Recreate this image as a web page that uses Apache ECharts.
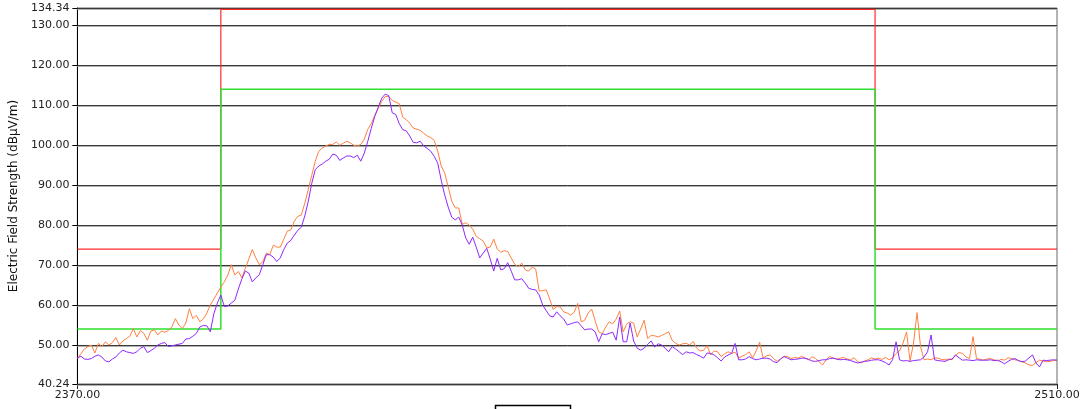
<!DOCTYPE html>
<html>
<head>
<meta charset="utf-8">
<script src="https://cdn.jsdelivr.net/npm/echarts@6/dist/echarts.min.js"></script>
<style>
html,body{margin:0;padding:0;background:#fff;}
#chart{width:1083px;height:409px;}
</style>
</head>
<body>
<div id="chart"></div>
<script>
// Frequency grid (MHz)
const freqStart = 2370;
const freqStep = 0.5;

// Trace 1 (orange), dBµV/m, every 0.5 MHz from 2370 to 2510
const traceOrange = [
  46.7, 47.8, 49.0, 49.6, 50.0, 48.0, 50.4, 49.6, 50.8, 50.0,
  50.6, 51.9, 50.0, 51.0, 51.6, 52.2, 54.1, 52.0, 53.6, 52.9,
  51.2, 53.5, 53.8, 52.5, 53.5, 53.2, 53.6, 54.5, 56.6, 55.0,
  54.1, 55.5, 59.1, 56.6, 57.4, 55.8, 56.5, 58.0, 60.0, 61.5,
  63.0, 64.5, 65.8, 67.5, 70.1, 67.5, 68.4, 66.8, 69.2, 71.5,
  73.9, 71.8, 70.1, 70.8, 73.0, 72.6, 75.0, 74.5, 74.5, 76.5,
  78.5, 78.8, 81.0, 82.2, 82.5, 85.5, 89.0, 92.5, 96.0, 98.5,
  99.3, 99.8, 100.2, 100.2, 100.8, 100.0, 100.5, 101.0, 100.6, 100.0,
  99.8, 100.2, 101.5, 104.0, 105.4, 107.5, 109.2, 111.0, 112.2, 112.2,
  111.2, 110.8, 110.4, 107.0, 106.4, 105.5, 104.3, 104.0, 103.7, 103.0,
  102.3, 101.9, 101.2, 98.5, 94.8, 93.0, 89.5, 86.0, 84.3, 84.3,
  80.2, 80.6, 80.0, 79.0, 77.2, 76.6, 76.0, 74.3, 74.5, 76.5,
  74.0, 73.2, 73.6, 73.4, 71.8, 70.2, 69.6, 70.5, 68.8, 68.5,
  69.5, 69.0, 63.5, 63.6, 63.8, 61.5, 58.9, 59.6, 59.5, 58.3,
  58.0, 57.5, 58.2, 60.4, 55.8, 56.2, 58.0, 59.0, 56.0, 53.3,
  52.8, 54.5, 55.8, 55.3, 56.5, 58.5, 53.3, 55.2, 55.8, 55.5,
  52.0, 54.0, 56.2, 51.6, 52.4, 52.3, 52.0, 52.4, 52.8, 53.3,
  51.2, 50.4, 50.0, 50.3, 50.4, 50.0, 50.9, 49.2, 48.5, 48.7,
  49.8, 47.5, 48.5, 48.3, 47.1, 47.8, 48.3, 47.9, 48.2, 46.8,
  47.2, 47.6, 48.3, 46.8, 48.5, 50.7, 46.7, 47.3, 47.5, 46.6,
  45.9, 46.5, 47.2, 47.1, 46.6, 46.9, 46.7, 47.2, 46.7, 46.3,
  47.1, 46.6, 45.8, 45.0, 46.3, 47.1, 46.8, 46.4, 46.7, 46.9,
  46.5, 46.3, 46.8, 45.9, 45.5, 46.0, 46.3, 46.8, 46.5, 46.7,
  46.4, 46.9, 46.3, 46.8, 47.9, 48.5, 50.5, 53.3, 46.0, 50.5,
  58.1, 49.6, 46.3, 46.5, 46.3, 46.8, 46.7, 46.4, 46.3, 46.5,
  46.3, 47.5, 48.1, 47.9, 47.0, 46.6, 52.1, 46.6, 46.4, 46.2,
  46.5, 46.6, 46.3, 46.0, 46.4, 46.2, 46.8, 46.6, 46.3, 46.1,
  45.8, 45.5, 45.0, 44.9, 45.6, 46.2, 46.0, 45.8, 45.9, 46.1,
  46.2
];

// Trace 2 (purple)
const tracePurple = [
  46.7, 47.2, 46.5, 46.4, 46.6, 47.2, 47.5, 47.0, 46.0, 45.8,
  46.5, 47.0, 48.0, 48.7, 48.3, 48.1, 47.9, 48.3, 49.2, 49.6,
  48.1, 48.6, 49.2, 50.0, 50.4, 50.6, 49.6, 49.8, 50.0, 50.2,
  50.4, 51.5, 51.6, 52.2, 52.9, 54.5, 54.9, 54.8, 53.3, 57.8,
  60.5, 62.5, 59.6, 59.8, 60.5, 61.2, 64.0, 66.5, 68.5, 68.0,
  65.8, 66.8, 67.6, 70.1, 72.6, 72.6, 72.0, 70.9, 71.8, 73.9,
  75.5, 76.2, 77.5, 78.7, 79.5, 82.3, 86.0, 90.5, 93.9, 94.8,
  95.3, 96.0, 96.5, 97.8, 97.5, 96.2, 96.8, 97.3, 97.3, 96.9,
  97.5, 96.0, 98.0, 101.0, 104.2, 107.2, 109.5, 111.8, 112.8, 112.4,
  108.1, 107.7, 105.4, 103.9, 103.6, 102.3, 100.7, 100.6, 101.0, 99.8,
  99.2, 98.5, 97.2, 95.5, 91.2, 87.5, 84.5, 82.0, 81.3, 82.0,
  80.0, 76.8, 75.2, 77.0, 74.5, 71.8, 73.0, 74.2, 71.5, 68.5,
  71.7, 68.8, 69.1, 70.6, 68.5, 66.3, 66.3, 66.6, 65.5, 64.2,
  63.9, 63.8, 62.5, 60.0, 58.6, 57.3, 57.0, 58.3, 57.3, 56.5,
  55.0, 55.3, 55.6, 55.8, 54.8, 53.8, 54.0, 54.0, 53.3, 50.8,
  52.8, 52.6, 52.9, 53.2, 51.2, 57.0, 50.8, 50.8, 55.5, 51.0,
  49.2, 48.7, 49.2, 50.2, 51.0, 49.5, 50.3, 50.0, 49.2, 48.3,
  49.6, 49.0, 48.3, 47.6, 48.3, 48.0, 48.1, 47.6, 47.2, 46.7,
  48.0, 47.9, 47.5, 46.8, 46.0, 47.0, 47.5, 47.9, 50.4, 46.3,
  46.3, 46.5, 47.1, 46.6, 46.3, 46.5, 46.7, 46.7, 46.5, 45.8,
  45.6, 46.5, 47.1, 46.7, 46.3, 46.4, 46.5, 46.7, 46.7, 46.4,
  46.0, 45.9, 46.1, 46.3, 46.3, 46.6, 46.7, 46.5, 46.3, 46.4,
  46.3, 46.1, 45.8, 45.5, 45.7, 45.9, 46.0, 46.2, 46.3, 46.3,
  46.0, 45.6, 45.0, 46.3, 50.8, 46.3, 46.0, 46.1, 45.9, 46.1,
  46.2, 46.3, 47.0, 48.3, 52.5, 46.3, 46.1, 46.0, 45.9, 46.3,
  46.5, 47.5, 46.8, 46.2, 46.3, 46.2, 46.1, 46.3, 46.2, 46.2,
  46.2, 46.3, 46.1, 46.2, 45.8, 45.3, 45.9, 46.4, 46.6, 46.1,
  45.8, 46.0, 46.8, 47.5, 45.5, 44.5, 46.2, 46.1, 46.2, 46.3,
  46.2
];

// Limit lines (freq, level)
const limitRedFreq  = [2370, 2390.5, 2390.5, 2484, 2484, 2510];
const limitRedLevel = [74, 74, 134, 134, 74, 74];
const limitGreenFreq  = [2370, 2390.5, 2390.5, 2484, 2484, 2510];
const limitGreenLevel = [54, 54, 114, 114, 54, 54];

// Axis ticks
const yTicks = [40.24, 50, 60, 70, 80, 90, 100, 110, 120, 130, 134.34];
const xTicks = [2370, 2510];
const yMin = 40.24, yMax = 134.34;
const xMin = 2370, xMax = 2510;

const FONT = 'DejaVu Sans';

function pairs(fx, fy) { return fx.map((f, i) => [f, fy[i]]); }
function trace(vals) { return vals.map((v, i) => [freqStart + i * freqStep, v]); }

const chart = echarts.init(document.getElementById('chart'), null, {renderer: 'canvas'});
chart.setOption({
  animation: false,
  backgroundColor: '#ffffff',
  grid: {left: 77, right: 26, top: 8, bottom: 25, show: true, borderColor: '#6a6a6a', borderWidth: 1, backgroundColor: 'transparent'},
  xAxis: {
    type: 'value', min: xMin, max: xMax,
    axisLine: {show: true, onZero: false, lineStyle: {color: '#222', width: 1}},
    axisTick: {show: true, length: 5, lineStyle: {color: '#222'}, customValues: xTicks},
    axisLabel: {customValues: xTicks, formatter: v => v.toFixed(2), fontFamily: FONT, fontSize: 11, color: '#222', margin: 6, showMinLabel: true, showMaxLabel: true},
    splitLine: {show: false}
  },
  yAxis: {
    type: 'value', min: yMin, max: yMax,
    name: 'Electric Field Strength (dBµV/m)', nameLocation: 'middle', nameRotate: 90, nameGap: 57,
    nameTextStyle: {fontFamily: FONT, fontSize: 12, color: '#111'},
    axisLine: {show: true, onZero: false, lineStyle: {color: '#000', width: 1}},
    axisTick: {show: true, length: 5, lineStyle: {color: '#000'}, customValues: yTicks},
    axisLabel: {customValues: yTicks, formatter: v => v.toFixed(2), fontFamily: FONT, fontSize: 11, color: '#222', margin: 8},
    splitLine: {show: false}
  },
  graphic: [{
    type: 'rect', shape: {x: 495.5, y: 405.5, width: 75, height: 12},
    style: {fill: '#fff', stroke: '#000', lineWidth: 1.5}
  }],
  series: [
    {
      type: 'line', data: [], silent: true, z: 1,
      markLine: {
        silent: true, symbol: ['none', 'none'], animation: false, z: 1,
        label: {show: false},
        lineStyle: {type: 'solid', color: '#3a3a3a', width: 1, shadowColor: '#b0b0b0', shadowOffsetY: 1, shadowBlur: 0},
        data: yTicks.map(v => ({yAxis: v}))
      }
    },
    {
      type: 'line', data: pairs(limitRedFreq, limitRedLevel), showSymbol: false, symbol: 'none', z: 3,
      lineStyle: {color: '#ff2a2a', width: 1.2}
    },
    {
      type: 'line', data: pairs(limitGreenFreq, limitGreenLevel), showSymbol: false, symbol: 'none', z: 3,
      lineStyle: {color: '#2fe02f', width: 1.5}
    },
    {
      type: 'line', data: trace(traceOrange), showSymbol: false, symbol: 'none', z: 4,
      lineStyle: {color: '#ff8040', width: 1}
    },
    {
      type: 'line', data: trace(tracePurple), showSymbol: false, symbol: 'none', z: 5,
      lineStyle: {color: '#8f28ff', width: 1}
    }
  ]
});
</script>
</body>
</html>
